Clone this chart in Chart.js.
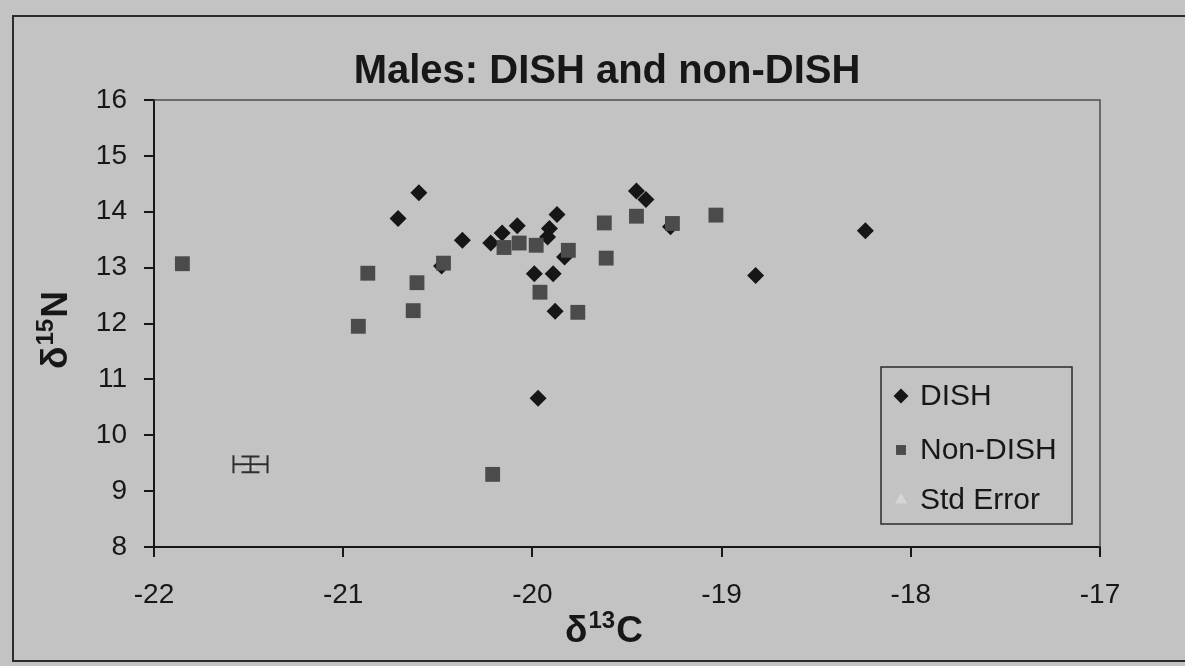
<!DOCTYPE html>
<html>
<head>
<meta charset="utf-8">
<title>Males: DISH and non-DISH</title>
<script src="https://cdn.jsdelivr.net/npm/chart.js@4.4.1/dist/chart.umd.min.js"></script>
<style>
    html, body { margin: 0; padding: 0; background: #c3c3c3; overflow: hidden; }
    #wrap { position: relative; width: 1185px; height: 666px; }
    #frame { position: absolute; left: 12px; top: 15px; width: 1200px; height: 647px; border: 2px solid #2b2b2b; box-sizing: border-box; }
    #box { position: absolute; left: 0; top: 0; width: 1185px; height: 666px; }
</style>
</head>
<body>
<div id="wrap">
    <div id="frame"></div>
    <div id="box"><canvas id="chart"></canvas></div>
</div>
<script>
// values
const dishX = [-20.71, -20.60, -20.37, -20.48, -20.22, -20.16, -20.08, -19.87, -19.91, -19.92,
               -19.83, -19.99, -19.89, -19.88, -19.45, -19.40, -19.27, -18.82, -18.24, -19.97];
const dishY = [13.88, 14.34, 13.49, 13.03, 13.44, 13.62, 13.75, 13.95, 13.70, 13.55,
               13.19, 12.89, 12.89, 12.22, 14.37, 14.22, 13.73, 12.86, 13.66, 10.66];

const nonDishX = [-21.85, -20.92, -20.87, -20.63, -20.61, -20.47, -20.15, -20.07, -19.98,
                  -19.81, -19.96, -19.76, -19.62, -19.61, -19.45, -19.26, -19.03, -20.21];
const nonDishY = [13.07, 11.95, 12.90, 12.23, 12.73, 13.08, 13.36, 13.44, 13.40,
                  13.31, 12.56, 12.20, 13.80, 13.17, 13.92, 13.79, 13.94, 9.30];

const stdErrX = [-21.49];
const stdErrY = [9.48];
const stdErrXErr = [0.09];
const stdErrYErr = [0.14];

const seriesLabels = ['DISH', 'Non-DISH', 'Std Error'];
const xTickValues = [-22, -21, -20, -19, -18, -17];
const yTickValues = [8, 9, 10, 11, 12, 13, 14, 15, 16];

const chartTitle = 'Males: DISH and non-DISH';
const xTitleParts = ['δ', '13', 'C'];
const yTitleParts = ['δ', '15', 'N'];

const FONT = '"Liberation Sans", Arial, sans-serif';
const INK = '#171717';

let toPoints = (xs, ys) => xs.map((x, i) => ({x: x, y: ys[i]}));

let drawSup = (ctx, parts, cx, baseline) => {
    let big = 'bold 37px ' + FONT;
    let small = 'bold 24px ' + FONT;
    ctx.font = big;
    let w0 = ctx.measureText(parts[0]).width;
    let w2 = ctx.measureText(parts[2]).width;
    ctx.font = small;
    let w1 = ctx.measureText(parts[1]).width;
    let x = cx - (w0 + w1 + w2 + 2) / 2;
    ctx.textAlign = 'left';
    ctx.textBaseline = 'alphabetic';
    ctx.font = big;
    ctx.fillText(parts[0], x, baseline);
    ctx.font = small;
    ctx.fillText(parts[1], x + w0 + 1, baseline - 14);
    ctx.font = big;
    ctx.fillText(parts[2], x + w0 + w1 + 2, baseline);
};

const plotFrame = {
    id: 'plotFrame',
    beforeDatasetsDraw(chart) {
        let ctx = chart.ctx;
        let a = chart.chartArea;
        ctx.save();
        ctx.strokeStyle = '#4d4d4d';
        ctx.lineWidth = 1.5;
        ctx.beginPath();
        ctx.moveTo(a.left, a.top);
        ctx.lineTo(a.right, a.top);
        ctx.lineTo(a.right, a.bottom);
        ctx.stroke();
        ctx.restore();
    }
};

const errorBars = {
    id: 'errorBars',
    afterDatasetsDraw(chart) {
        let ctx = chart.ctx;
        let xs = chart.scales.x;
        let ys = chart.scales.y;
        ctx.save();
        ctx.strokeStyle = '#2e2e2e';
        ctx.lineWidth = 2;
        stdErrX.forEach((x, i) => {
            let px = xs.getPixelForValue(x);
            let py = ys.getPixelForValue(stdErrY[i]);
            let x1 = xs.getPixelForValue(x - stdErrXErr[i]);
            let x2 = xs.getPixelForValue(x + stdErrXErr[i]);
            let y1 = ys.getPixelForValue(stdErrY[i] + stdErrYErr[i]);
            let y2 = ys.getPixelForValue(stdErrY[i] - stdErrYErr[i]);
            ctx.beginPath();
            ctx.moveTo(x1, py); ctx.lineTo(x2, py);
            ctx.moveTo(x1, py - 9); ctx.lineTo(x1, py + 9);
            ctx.moveTo(x2, py - 9); ctx.lineTo(x2, py + 9);
            ctx.moveTo(px, y1); ctx.lineTo(px, y2);
            ctx.moveTo(px - 9, y1); ctx.lineTo(px + 9, y1);
            ctx.moveTo(px - 9, y2); ctx.lineTo(px + 9, y2);
            ctx.stroke();
        });
        ctx.restore();
    }
};

const headings = {
    id: 'headings',
    afterDraw(chart) {
        let ctx = chart.ctx;
        let a = chart.chartArea;
        ctx.save();
        ctx.fillStyle = INK;
        ctx.textAlign = 'center';
        ctx.textBaseline = 'alphabetic';
        ctx.font = 'bold 40px ' + FONT;
        ctx.fillText(chartTitle, 607, 83);
        drawSup(ctx, xTitleParts, 604, 642);
        ctx.translate(67, 330);
        ctx.rotate(-Math.PI / 2);
        drawSup(ctx, yTitleParts, 0, 0);
        ctx.restore();
    }
};

const boxLegend = {
    id: 'boxLegend',
    afterDraw(chart) {
        let ctx = chart.ctx;
        ctx.save();
        ctx.strokeStyle = '#2b2b2b';
        ctx.lineWidth = 1.5;
        ctx.strokeRect(881, 367, 191, 157);
        ctx.font = '30px ' + FONT;
        ctx.textAlign = 'left';
        ctx.textBaseline = 'middle';
        let rows = [396, 450, 500];
        let sizes = [7.5, 7, 7];
        chart.data.datasets.forEach((ds, i) => {
            ctx.fillStyle = ds.backgroundColor;
            ctx.strokeStyle = ds.backgroundColor;
            Chart.helpers.drawPoint(ctx, {pointStyle: ds.pointStyle, radius: sizes[i], rotation: 0, borderWidth: 0}, 901, rows[i]);
            ctx.fillStyle = INK;
            ctx.fillText(ds.label, 920, rows[i] + 1);
        });
        ctx.restore();
    }
};

let ctx = document.getElementById('chart').getContext('2d');
new Chart(ctx, {
    type: 'scatter',
    data: {
        datasets: [
            {
                label: seriesLabels[0],
                data: toPoints(dishX, dishY),
                pointStyle: 'rectRot',
                pointRadius: 8.5,
                backgroundColor: '#161616',
                borderColor: '#161616',
                borderWidth: 0,
                order: 1
            }, {
                label: seriesLabels[1],
                data: toPoints(nonDishX, nonDishY),
                pointStyle: 'rect',
                pointRadius: 10.5,
                backgroundColor: '#4b4b4b',
                borderColor: '#4b4b4b',
                borderWidth: 0,
                order: 0
            }, {
                label: seriesLabels[2],
                data: toPoints(stdErrX, stdErrY),
                pointStyle: 'triangle',
                pointRadius: 6,
                backgroundColor: '#d6d6d6',
                borderColor: '#d6d6d6',
                borderWidth: 0,
                order: 2
            }
        ]
    },
    options: {
        responsive: true,
        maintainAspectRatio: false,
        animation: false,
        events: [],
        layout: {
            padding: {top: 100, left: 0, right: 85, bottom: 0}
        },
        plugins: {
            legend: {display: false},
            title: {display: false},
            tooltip: {enabled: false}
        },
        scales: {
            x: {
                type: 'linear',
                min: -22,
                max: -17,
                afterBuildTicks: scale => { scale.ticks = xTickValues.map(v => ({value: v})); },
                afterFit: scale => { scale.height = 119; },
                ticks: {color: INK, font: {family: FONT, size: 28}, padding: 21, maxRotation: 0},
                grid: {drawOnChartArea: false, drawTicks: true, tickLength: 10, color: INK, lineWidth: 2},
                border: {display: true, color: INK, width: 2}
            },
            y: {
                type: 'linear',
                min: 8,
                max: 16,
                afterBuildTicks: scale => { scale.ticks = yTickValues.map(v => ({value: v})); },
                afterFit: scale => { scale.width = 154; },
                ticks: {color: INK, font: {family: FONT, size: 28}, padding: 17},
                grid: {drawOnChartArea: false, drawTicks: true, tickLength: 10, color: INK, lineWidth: 2},
                border: {display: true, color: INK, width: 2}
            }
        }
    },
    plugins: [plotFrame, errorBars, headings, boxLegend]
});
</script>
</body>
</html>
